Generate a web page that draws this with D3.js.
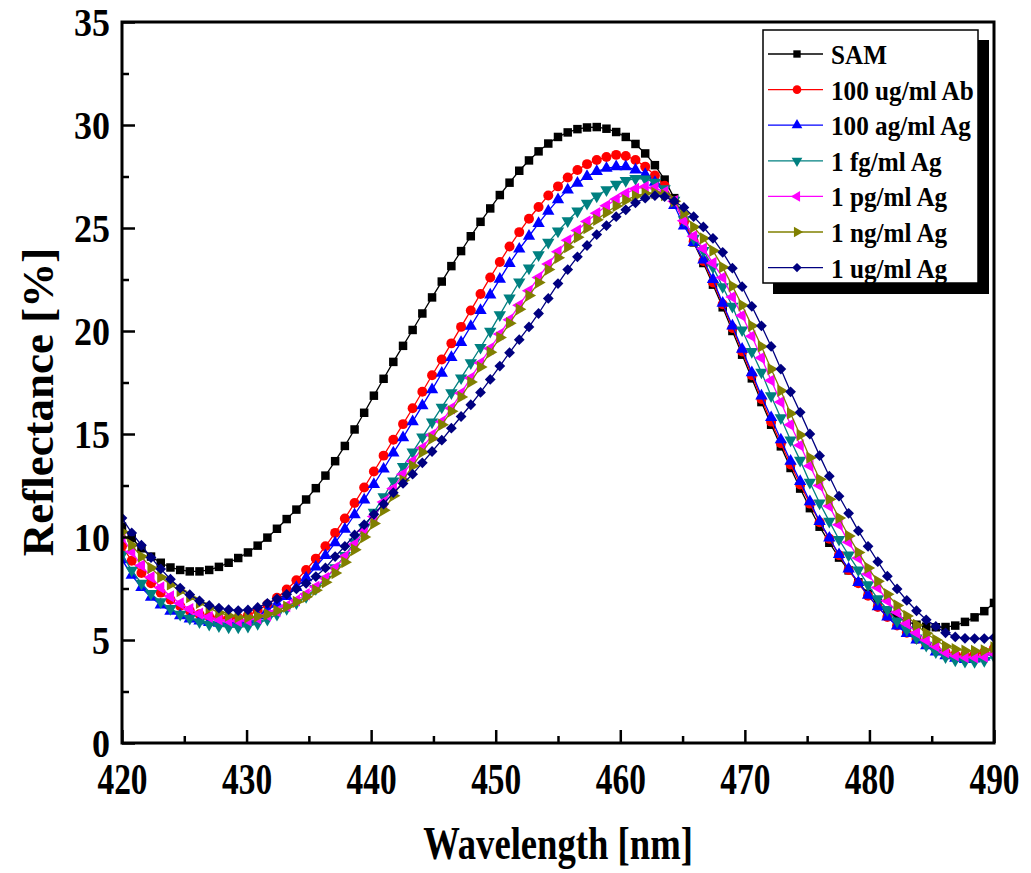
<!DOCTYPE html>
<html><head><meta charset="utf-8">
<script src="https://cdn.jsdelivr.net/npm/d3@7"></script>
<style>body{margin:0;background:#fff}text{font-family:"Liberation Serif","Times New Roman",serif;font-weight:bold}</style>
</head><body><svg id="c" width="1031" height="873"></svg>
<script>
const wavelengths=[420,420.78,421.56,422.33,423.11,423.89,424.67,425.44,426.22,427,
427.78,428.56,429.33,430.11,430.89,431.67,432.44,433.22,434,434.78,
435.56,436.33,437.11,437.89,438.67,439.44,440.22,441,441.78,442.56,
443.33,444.11,444.89,445.67,446.44,447.22,448,448.78,449.56,450.33,
451.11,451.89,452.67,453.44,454.22,455,455.78,456.56,457.33,458.11,
458.89,459.67,460.44,461.22,462,462.78,463.56,464.33,465.11,465.89,
466.67,467.44,468.22,469,469.78,470.56,471.33,472.11,472.89,473.67,
474.44,475.22,476,476.78,477.56,478.33,479.11,479.89,480.67,481.44,
482.22,483,483.78,484.56,485.33,486.11,486.89,487.67,488.44,489.22,490];

const sam=[10.5,9.95,9.45,9.05,8.75,8.52,8.4,8.33,8.33,8.4,
8.55,8.75,8.98,9.25,9.58,9.97,10.4,10.87,11.33,11.82,
12.37,12.98,13.68,14.42,15.22,16.03,16.86,17.68,18.5,19.28,
20.05,20.85,21.63,22.4,23.15,23.88,24.6,25.3,25.95,26.6,
27.2,27.78,28.28,28.72,29.1,29.42,29.64,29.8,29.88,29.9,
29.82,29.66,29.42,29.08,28.62,28.05,27.35,26.45,25.3,24.3,
23.3,22.25,21.15,20.0,18.85,17.7,16.55,15.45,14.4,13.35,
12.35,11.4,10.5,9.72,9.0,8.38,7.8,7.25,6.78,6.4,
6.12,5.9,5.74,5.65,5.62,5.63,5.7,5.88,6.1,6.4,6.8];

const ab100ug=[9.55,8.85,8.25,7.75,7.3,6.95,6.65,6.42,6.25,6.13,
6.07,6.05,6.08,6.2,6.42,6.72,7.05,7.45,7.9,8.4,
8.95,9.55,10.2,10.9,11.65,12.4,13.18,13.95,14.72,15.48,
16.25,17.05,17.85,18.62,19.4,20.2,21.0,21.8,22.6,23.35,
24.1,24.8,25.45,26.02,26.58,27.02,27.45,27.82,28.1,28.3,
28.45,28.55,28.5,28.3,27.98,27.55,27.05,26.3,25.3,24.35,
23.4,22.35,21.3,20.15,19.0,17.85,16.7,15.6,14.55,13.52,
12.55,11.62,10.72,9.92,9.12,8.4,7.75,7.15,6.6,6.12,
5.7,5.35,5.05,4.78,4.55,4.4,4.3,4.27,4.3,4.42,4.6];

const ag100ag=[8.9,8.15,7.55,7.08,6.7,6.4,6.18,6.02,5.92,5.85,
5.82,5.82,5.87,5.98,6.17,6.43,6.75,7.12,7.55,8.02,
8.55,9.1,9.72,10.38,11.08,11.8,12.55,13.3,14.08,14.82,
15.6,16.38,17.15,17.95,18.72,19.45,20.23,21.0,21.75,22.52,
23.28,23.98,24.6,25.22,25.82,26.38,26.85,27.18,27.5,27.75,
27.9,27.98,27.98,27.82,27.6,27.22,26.72,26.1,25.1,24.3,
23.45,22.5,21.35,20.25,19.12,17.98,16.85,15.8,14.72,13.68,
12.7,11.72,10.76,9.95,9.15,8.45,7.8,7.17,6.62,6.12,
5.68,5.32,5.0,4.72,4.42,4.24,4.12,4.06,4.08,4.18,4.42];

const ag1fg=[9.15,8.38,7.75,7.25,6.85,6.52,6.25,6.05,5.88,5.76,
5.68,5.63,5.62,5.66,5.8,6.0,6.25,6.52,6.8,7.1,
7.5,7.95,8.5,9.1,9.75,10.45,11.2,11.95,12.72,13.42,
14.12,14.85,15.58,16.3,17.0,17.72,18.45,19.2,19.98,20.78,
21.6,22.38,23.05,23.7,24.3,24.85,25.35,25.82,26.2,26.55,
26.85,27.12,27.3,27.4,27.38,27.22,26.9,26.35,25.4,24.5,
23.9,23.1,22.15,21.2,20.05,19.0,18.0,16.85,15.78,14.7,
13.72,12.65,11.65,10.76,9.88,9.12,8.4,7.68,7.0,6.48,
5.92,5.5,5.1,4.74,4.42,4.18,4.02,3.96,3.95,4.0,4.2];

const ag1pg=[10.0,9.28,8.62,8.05,7.55,7.12,6.78,6.5,6.28,6.12,
6.0,5.93,5.92,5.95,6.05,6.2,6.4,6.65,6.92,7.22,
7.58,8.0,8.5,9.05,9.65,10.3,11.0,11.7,12.35,13.05,
13.68,14.32,14.95,15.6,16.25,16.98,17.72,18.45,19.15,19.85,
20.55,21.25,21.95,22.6,23.25,23.85,24.4,24.88,25.32,25.72,
26.08,26.4,26.68,26.9,27.0,26.95,26.75,26.3,25.35,24.6,
24.0,23.3,22.6,21.65,20.75,19.75,18.7,17.6,16.55,15.45,
14.45,13.45,12.5,11.5,10.6,9.75,8.98,8.2,7.55,6.9,
6.35,5.8,5.35,5.0,4.7,4.4,4.25,4.17,4.16,4.2,4.35];

const ag1ng=[10.25,9.6,9.05,8.5,8.05,7.7,7.38,7.08,6.8,6.55,
6.33,6.18,6.11,6.1,6.15,6.25,6.42,6.62,6.85,7.1,
7.42,7.8,8.25,8.78,9.38,10.0,10.65,11.3,12.0,12.75,
13.45,14.12,14.78,15.45,16.1,16.8,17.52,18.25,18.97,19.68,
20.38,21.05,21.72,22.35,22.98,23.55,24.08,24.55,25.0,25.4,
25.75,26.07,26.35,26.55,26.68,26.7,26.6,26.3,25.7,25.05,
24.5,23.9,23.1,22.18,21.25,20.25,19.25,18.15,17.1,16.0,
14.95,13.85,12.8,11.83,10.92,10.05,9.25,8.5,7.85,7.22,
6.68,6.17,5.73,5.33,5.0,4.7,4.55,4.48,4.47,4.5,4.64];

const ag1ug=[10.92,10.2,9.6,9.0,8.45,7.95,7.52,7.2,6.9,6.68,
6.55,6.47,6.43,6.46,6.58,6.78,7.0,7.22,7.48,7.75,
8.08,8.5,9.05,9.55,10.1,10.6,11.1,11.6,12.15,12.6,
13.05,13.6,14.15,14.7,15.28,15.85,16.42,17.02,17.65,18.3,
18.95,19.58,20.2,20.85,21.58,22.3,22.98,23.6,24.15,24.68,
25.12,25.55,25.88,26.22,26.45,26.57,26.52,26.3,26.0,25.55,
25.05,24.5,23.82,23.05,22.15,21.2,20.25,19.25,18.15,17.05,
16.05,15.0,13.95,12.95,11.98,11.15,10.3,9.55,8.8,8.1,
7.48,6.92,6.42,5.98,5.66,5.35,5.15,5.08,5.07,5.07,5.12];

const seriesNames=["SAM","100 ug/ml Ab","100 ag/ml Ag","1 fg/ml Ag","1 pg/ml Ag","1 ng/ml Ag","1 ug/ml Ag"];
const seriesValues=[sam,ab100ug,ag100ag,ag1fg,ag1pg,ag1ng,ag1ug];
const seriesColors=["#000000","#ff0000","#0000ff","#008080","#ff00ff","#808000","#000080"];
const xMajorTicks=[420,430,440,450,460,470,480,490];
const xMinorTicks=[425,435,445,455,465,475,485];
const yMajorTicks=[0,5,10,15,20,25,30,35];
const yMinorTicks=[2.5,7.5,12.5,17.5,22.5,27.5,32.5];

// marker: [symbol type, rotation, size]
const markers=[
  [d3.symbolSquare,0,72],
  [d3.symbolCircle,0,78],
  [d3.symbolTriangle,0,66],
  [d3.symbolTriangle,180,66],
  [d3.symbolTriangle,-90,66],
  [d3.symbolTriangle,90,66],
  [d3.symbolSquare,45,58]
];

const L=122,R=994,T=22,B=743;
const svg=d3.select('#c');
const x=d3.scaleLinear().domain([420,490]).range([L,R]);
const y=d3.scaleLinear().domain([0,35]).range([B,T]);

svg.append('defs').append('clipPath').attr('id','clip')
  .append('rect').attr('x',L).attr('y',T).attr('width',R-L).attr('height',B-T);

const plot=svg.append('g').attr('clip-path','url(#clip)');
const line=d3.line().x((d,i)=>x(wavelengths[i])).y(d=>y(d));

seriesValues.forEach((vals,k)=>{
  const g=plot.append('g');
  g.append('path').attr('d',line(vals)).attr('fill','none')
    .attr('stroke',seriesColors[k]).attr('stroke-width',1.3);
  const sym=d3.symbol().type(markers[k][0]).size(markers[k][2]);
  g.selectAll('path.m').data(vals).join('path').attr('class','m')
    .attr('d',sym)
    .attr('transform',(d,i)=>`translate(${x(wavelengths[i])},${y(d)}) rotate(${markers[k][1]})`)
    .attr('fill',seriesColors[k]);
});

// axes
const xMaj=svg.append('g').attr('transform',`translate(0,${B})`)
  .call(d3.axisBottom(x).tickValues(xMajorTicks).tickSize(-13).tickFormat(d3.format('d')));
xMaj.select('.domain').remove();
xMaj.selectAll('line').attr('stroke','#000').attr('stroke-width',2.5);
xMaj.selectAll('text').attr('y',null).attr('dy',null)
  .attr('transform','translate(0,51) scale(0.76,1)')
  .attr('font-size',44).attr('fill','#000').attr('text-anchor','middle');

const xMin=svg.append('g').attr('transform',`translate(0,${B})`)
  .call(d3.axisBottom(x).tickValues(xMinorTicks).tickSize(-7).tickFormat(''));
xMin.select('.domain').remove();
xMin.selectAll('line').attr('stroke','#000').attr('stroke-width',2.5);

const yMaj=svg.append('g').attr('transform',`translate(${L},0)`)
  .call(d3.axisLeft(y).tickValues(yMajorTicks).tickSize(-13).tickFormat(d3.format('d')));
yMaj.select('.domain').remove();
yMaj.selectAll('line').attr('stroke','#000').attr('stroke-width',2.5);
yMaj.selectAll('text').attr('x',null).attr('dy',null)
  .attr('transform','translate(-12,13) scale(0.9,1)')
  .attr('font-size',40).attr('fill','#000').attr('text-anchor','end');

const yMin=svg.append('g').attr('transform',`translate(${L},0)`)
  .call(d3.axisLeft(y).tickValues(yMinorTicks).tickSize(-7).tickFormat(''));
yMin.select('.domain').remove();
yMin.selectAll('line').attr('stroke','#000').attr('stroke-width',2.5);

svg.append('rect').attr('x',L).attr('y',T).attr('width',R-L).attr('height',B-T)
  .attr('fill','none').attr('stroke','#000').attr('stroke-width',3);

// axis titles
svg.append('text').attr('transform',`translate(${(L+R)/2},859) scale(0.78,1)`)
  .attr('text-anchor','middle').attr('font-size',47).text('Wavelength [nm]');
svg.append('text').attr('transform','translate(53,402) rotate(-90)')
  .attr('text-anchor','middle').attr('font-size',45).text('Reflectance [%]');

// legend
const lg=svg.append('g');
lg.append('rect').attr('x',773).attr('y',40).attr('width',216).attr('height',254).attr('fill','#000');
lg.append('rect').attr('x',763).attr('y',30).attr('width',215).attr('height',253)
  .attr('fill','#fff').attr('stroke','#000').attr('stroke-width',1.5);
seriesNames.forEach((name,k)=>{
  const yy=54+k*35.6;
  lg.append('line').attr('x1',768).attr('x2',823).attr('y1',yy).attr('y2',yy)
    .attr('stroke',seriesColors[k]).attr('stroke-width',1.3);
  lg.append('path').attr('d',d3.symbol().type(markers[k][0]).size(markers[k][2]*0.75)())
    .attr('transform',`translate(797,${yy}) rotate(${markers[k][1]})`).attr('fill',seriesColors[k]);
  lg.append('text').attr('transform',`translate(831,${yy+10}) scale(0.9,1)`)
    .attr('font-size',28).text(name);
});
</script></body></html>
